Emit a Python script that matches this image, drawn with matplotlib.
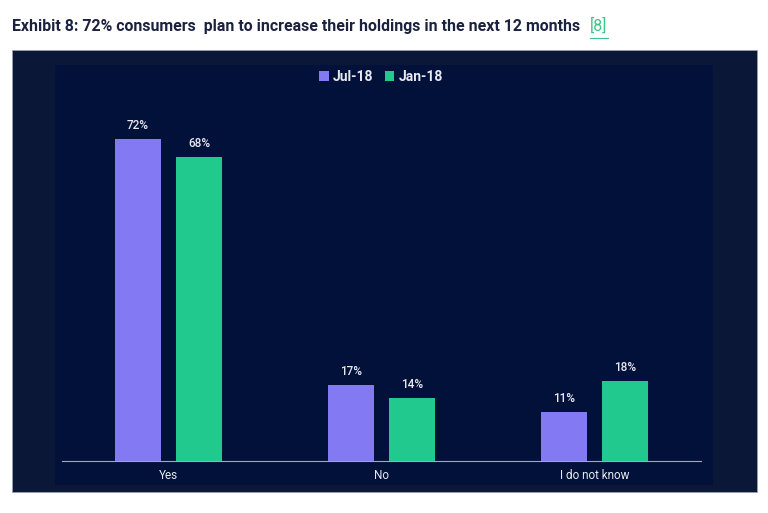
import matplotlib
matplotlib.use("Agg")
import matplotlib.pyplot as plt
from matplotlib.patches import Rectangle
import numpy as np

# data
categories = ["Yes", "No", "I do not know"]
jul18 = [72, 17, 11]
jan18 = [68, 14, 18]
series_names = ["Jul-18", "Jan-18"]

purple = "#8379F3"
green = "#22C98F"
outer_bg = "#0B1737"
inner_bg = "#01113A"
txt = "#E8E8EE"

plt.rcParams['font.family'] = ['Roboto', 'DejaVu Sans']

W, H = 768, 513
fig = plt.figure(figsize=(W/100, H/100), dpi=100)
fig.patch.set_facecolor("white")

def fx(px): return px / W
def fy(py): return 1 - py / H

# dark boxes behind the plot
fig.patches.append(Rectangle((fx(12), fy(492)), fx(757) - fx(12), fy(50) - fy(492),
                             transform=fig.transFigure, facecolor=outer_bg, edgecolor="#9aa0b4", lw=0.6, zorder=-2))
fig.patches.append(Rectangle((fx(55), fy(485)), fx(713) - fx(55), fy(65) - fy(485),
                             transform=fig.transFigure, facecolor=inner_bg, edgecolor="none", zorder=-1))

ax = fig.add_axes([fx(62), fy(461), fx(701) - fx(62), fy(95) - fy(461)])
ax.set_zorder(2)
ax.set_facecolor("none")
x = np.arange(len(categories))
w = 0.22
off = 0.143
b1 = ax.bar(x - off, jul18, w, color=purple, label=series_names[0])
b2 = ax.bar(x + off, jan18, w, color=green, label=series_names[1])
for bars, vals in ((b1, jul18), (b2, jan18)):
    for r, v in zip(bars, vals):
        ax.annotate(f"{v}%", (r.get_x() + r.get_width()/2, v), xytext=(0, 5),
                    textcoords="offset points", ha="center", va="bottom",
                    color=txt, fontsize=8.5, fontweight="medium")

ax.set_xlim(-0.5, 2.5)
ax.set_ylim(0, 81.9)
ax.set_yticks([])
ax.set_xticks(x)
ax.set_xticklabels(categories, color=txt, fontsize=8.5)
ax.tick_params(axis="x", length=0, pad=6)
for s in ["top", "left", "right"]:
    ax.spines[s].set_visible(False)
ax.spines["bottom"].set_color("#A0A8C0")
ax.spines["bottom"].set_linewidth(0.8)

leg = fig.legend(loc="center", bbox_to_anchor=(fx(381), fy(77)), ncol=2, frameon=False,
                 handlelength=0.7, handleheight=0.7, handletextpad=0.3, columnspacing=0.8,
                 prop={"weight": "bold", "size": 10})
for t in leg.get_texts():
    t.set_color(txt)

# title
title = fig.text(fx(12), fy(26), "Exhibit 8: 72% consumers  plan to increase their holdings in the next 12 months",
                 fontsize=11.4, fontweight="bold", color="#1B2240", va="center", ha="left")
fig.canvas.draw()
bb = title.get_window_extent()
ref_x = bb.x1 / W + fx(10)
ref = fig.text(ref_x, fy(26), "[8]", fontsize=11.4, color="#3CC68A", va="center", ha="left")
fig.canvas.draw()
rb = ref.get_window_extent()
fig.add_artist(plt.Line2D([rb.x0 / W, rb.x1 / W], [fy(38), fy(38)], transform=fig.transFigure,
                          color="#3CC68A", lw=0.8))

fig.savefig("out.png", dpi=100)
